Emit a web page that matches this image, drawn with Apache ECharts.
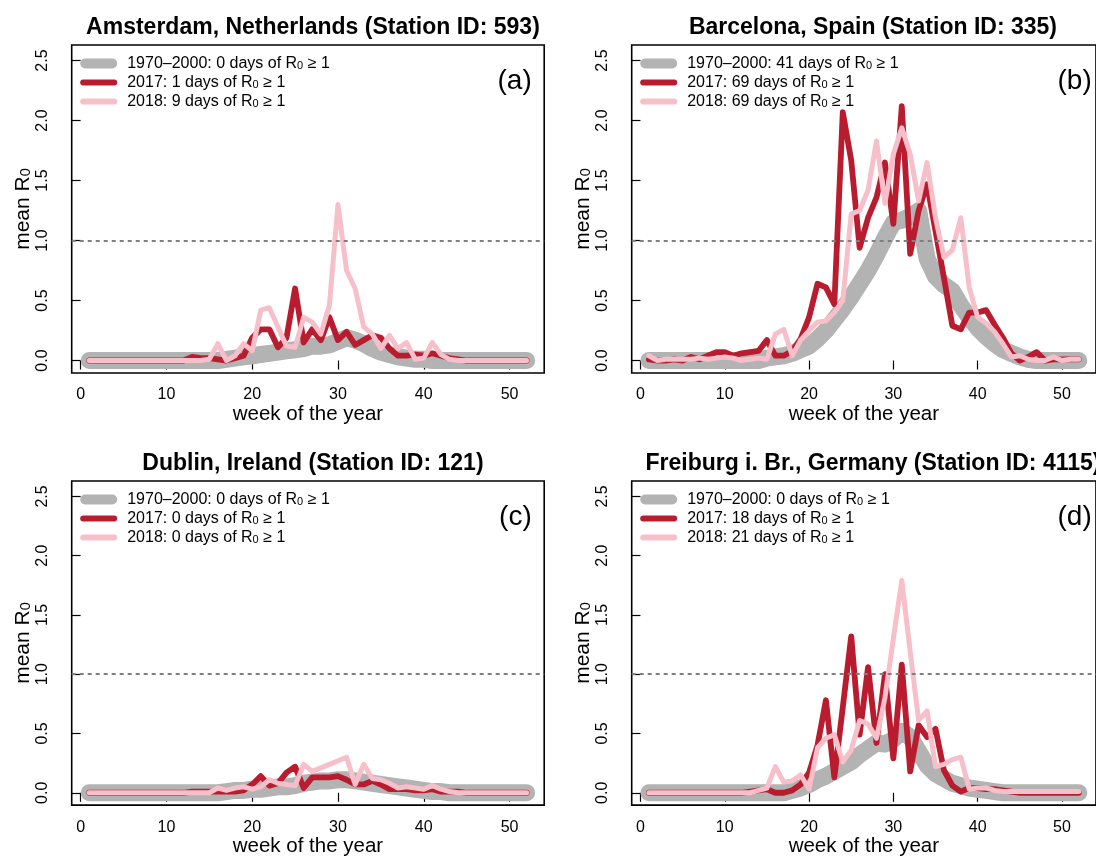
<!DOCTYPE html>
<html>
<head>
<meta charset="utf-8">
<title>mean R0 per week</title>
<script src="https://cdn.jsdelivr.net/npm/echarts@6/dist/echarts.min.js"></script>
<style>
  html, body { margin: 0; padding: 0; background: #fff; }
  #chart { width: 1096px; height: 858px; }
</style>
</head>
<body>
<div id="chart"></div>
<script>
// week of the year, 1..52
const weeks = Array.from({ length: 52 }, (_, i) => i + 1)

const xTicks = [0, 10, 20, 30, 40, 50]
const yTicks = [0, 0.5, 1, 1.5, 2, 2.5]

const titles = [
  'Amsterdam, Netherlands (Station ID: 593)',
  'Barcelona, Spain (Station ID: 335)',
  'Dublin, Ireland (Station ID: 121)',
  'Freiburg i. Br., Germany (Station ID: 4115)',
]
const tags = ['(a)', '(b)', '(c)', '(d)']

// days of R0 >= 1: [1970-2000, 2017, 2018]
const daysA = [0, 1, 9]
const daysB = [41, 69, 69]
const daysC = [0, 0, 0]
const daysD = [0, 18, 21]

// (a) Amsterdam
const baseA = [0,0,0,0,0,0,0,0,0,0,0,0,0,0,0,0,
  0.01,0.02,0.03,0.04,0.05,0.06,0.07,0.08,0.09,0.1,0.12,0.12,0.13,0.16,0.19,0.17,0.14,0.1,0.07,0.05,0.03,0.02,0.01,0.01,
  0,0,0,0,0,0,0,0,0,0,0,0]
const y2017A = [0,0,0,0,0,0,0,0,0,0,0,0,
  0.03,0.02,0.02,0.01,0,0.02,0.04,0.19,0.26,0.26,0.11,0.19,0.6,0.15,0.26,0.17,0.36,0.17,0.24,0.13,0.17,0.21,0.19,0.1,0.04,0.04,0.05,0.04,0.06,0.04,0.02,0.01,
  0,0,0,0,0,0,0,0]
const y2018A = [0,0,0,0,0,0,0,0,0,0,0,0,0,0,
  0.01,0.14,0,0.04,0.14,0.08,0.42,0.44,0.28,0.12,0.11,0.36,0.32,0.22,0.46,1.3,0.75,0.6,0.28,0.22,0.1,0.21,0.1,0.15,0.01,0.02,0.15,0.05,0.01,
  0,0,0,0,0,0,0,0,0]

// (b) Barcelona
const baseB = [0,0,0,0,0,0,0,0,0,0,0,0,0,0,
  0.02,0.03,0.04,0.06,0.09,0.12,0.18,0.25,0.34,0.43,0.53,0.64,0.75,0.88,1.02,1.15,1.17,1.2,1.25,0.85,0.7,0.63,0.58,0.46,0.36,0.27,0.2,0.14,0.09,0.06,0.03,0.01,
  0,0,0,0,0,0]
const y2017B = [0.01,0,0,0.01,0,0.03,0.01,0.04,0.07,0.07,0.04,0.06,0.07,0.08,0.17,0.04,0.04,0.08,0.18,0.36,
  0.64,0.61,0.47,2.07,1.67,0.94,1.19,1.36,1.65,1.14,2.12,0.89,1.25,1.47,1.08,0.69,0.29,0.26,0.4,0.4,
  0.42,0.3,0.19,0.06,0,0.03,0.07,0,0.01,0.01,0.01,0.01]
const y2018B = [0.04,0,0.01,0.01,0.01,0.01,0.02,0.01,0.02,0.03,0.02,0,0.01,0.02,0.01,0.22,0.26,0.04,0.17,0.25,
  0.32,0.33,0.4,0.5,1.22,1.25,1.42,1.83,1.31,1.72,1.94,1.72,1.33,1.65,1.19,0.86,0.92,1.19,0.61,0.36,
  0.31,0.24,0.14,0.03,0.04,0.01,0,0,0.03,0,0.01,0.01]

// (c) Dublin
const baseC = [0,0,0,0,0,0,0,0,0,0,0,0,0,0,0,0,
  0.01,0.02,0.02,0.03,0.03,0.04,0.05,0.05,0.06,0.08,0.09,0.1,0.1,0.11,0.11,0.1,0.09,0.08,0.07,0.06,0.05,0.04,0.03,0.02,0.01,0.01,
  0,0,0,0,0,0,0,0,0,0]
const y2017C = [0,0,0,0,0,0,0,0,0,0,0,0,
  0.01,0.01,0.01,0.01,0.01,0.01,0.02,0.07,0.14,0.06,0.08,0.17,0.22,0.04,0.13,0.13,0.13,0.14,0.11,0.07,0.07,0.1,0.07,0.03,0.03,0.03,0.02,0.02,0.03,0.01,0.01,0.01,
  0,0,0,0,0,0,0,0]
const y2018C = [0,0,0,0,0,0,0,0,0,0,0,0,0,0,0,
  0.04,0.02,0.04,0.05,0.03,0.05,0.11,0.08,0.07,0.06,0.24,0.18,0.21,0.24,0.27,0.3,0.07,0.24,0.12,0.11,0.08,0.04,0.05,0.04,0.03,0.06,0.03,0.01,
  0,0,0,0,0,0,0,0,0]

// (d) Freiburg
const baseD = [0,0,0,0,0,0,0,0,0,0,0,0,0,0,0,0,0,
  0.02,0.04,0.07,0.11,0.14,0.18,0.22,0.26,0.32,0.37,0.42,0.41,0.45,0.52,0.47,0.35,0.23,0.16,0.12,0.08,0.06,0.04,0.03,0.02,0.01,
  0,0,0,0,0,0,0,0,0,0]
const y2017D = [0,0,0,0,0,0,0,0,0,0,0,0,
  0.01,0.02,0.03,0,0,0.02,0.07,0.17,0.4,0.78,0.13,0.72,1.32,0.49,1.06,0.42,1.0,0.29,1.08,0.18,0.57,0.47,0.54,0.19,0.06,0.01,0.04,0.04,0.03,0.03,0.02,0.01,
  0,0,0,0,0,0,0,0]
const y2018D = [0,0,0,0,0,0,0,0,0,0,0,0,0,
  0.02,0.04,0.22,0.09,0.1,0.15,0.03,0.38,0.46,0.49,0.26,0.36,0.61,0.58,0.46,0.8,1.3,1.79,1.19,0.61,0.69,0.22,0.24,0.28,0.3,0.03,0.04,0.04,0.02,0.01,
  0.01,0.01,0.01,0.01,0.01,0.01,0.01,0.01,0.01]

const FONT = "'Liberation Sans', Arial, Helvetica, sans-serif"
const GRAY = '#b3b3b3'
const RED = '#b91c2e'
const PINK = '#f7bfca'

// panel frames (pixels)
const GRID_W = 472.5
const GRID_H = 328
const gridLeft = [71.7, 631.7, 71.7, 631.7]
const gridTop = [45, 45, 481, 481]

const panels = [
  { base: baseA, y17: y2017A, y18: y2018A, days: daysA },
  { base: baseB, y17: y2017B, y18: y2018B, days: daysB },
  { base: baseC, y17: y2017C, y18: y2018C, days: daysC },
  { base: baseD, y17: y2017D, y18: y2018D, days: daysD },
]

const ICON_WIDE = 'path://M5,0L32,0A5,5,0,0,1,32,10L5,10A5,5,0,0,1,5,0Z'
const ICON_THIN = 'path://M3,0L34,0A3,3,0,0,1,34,6L3,6A3,3,0,0,1,3,0Z'

function legendName(period, n) {
  return period + ': ' + n + ' days of R0 \u2265 1'
}

function subscriptR0(name) {
  const parts = name.split('R0')
  return '{m|' + parts[0] + 'R}{sub|0}{m|' + parts[1] + '}'
}

const pairs = vals => weeks.map((w, i) => [w, vals[i]])

const grid = []
const xAxis = []
const yAxis = []
const series = []
const legend = []
const title = []

panels.forEach((p, i) => {
  const names = [
    legendName('1970\u20132000', p.days[0]),
    legendName('2017', p.days[1]),
    legendName('2018', p.days[2]),
  ]

  grid.push({
    left: gridLeft[i], top: gridTop[i], width: GRID_W, height: GRID_H,
    show: true, borderColor: '#000', borderWidth: 1.6, backgroundColor: 'transparent',
  })

  xAxis.push({
    type: 'value', gridIndex: i, min: -1.04, max: 54.04,
    axisLine: { show: false },
    splitLine: { show: false },
    axisTick: { show: true, length: 9, customValues: xTicks, lineStyle: { color: '#000', width: 1.2 } },
    axisLabel: { customValues: xTicks, fontFamily: FONT, fontSize: 16, color: '#000', margin: 14 },
    name: 'week of the year', nameLocation: 'middle', nameGap: 29,
    nameTextStyle: { fontFamily: FONT, fontSize: 20.5, color: '#000' },
  })

  yAxis.push({
    type: 'value', gridIndex: i, min: -0.104, max: 2.63,
    axisLine: { show: false },
    splitLine: { show: false },
    axisTick: { show: true, length: 9, customValues: yTicks, lineStyle: { color: '#000', width: 1.2 } },
    axisLabel: {
      customValues: yTicks, rotate: 90, margin: 21,
      fontFamily: FONT, fontSize: 16, color: '#000',
      formatter: v => v.toFixed(1),
    },
    name: '{m|mean R}{sub|0}', nameLocation: 'middle', nameRotate: 90, nameGap: 35,
    nameTextStyle: {
      fontFamily: FONT, color: '#000',
      rich: {
        m: { fontFamily: FONT, fontSize: 21, lineHeight: 21, color: '#000' },
        sub: { fontFamily: FONT, fontSize: 14.5, lineHeight: 10, verticalAlign: 'bottom', color: '#000' },
      },
    },
  })

  // reference line at R0 = 1
  series.push({
    type: 'line', xAxisIndex: i, yAxisIndex: i, data: [], silent: true, z: 1,
    markLine: {
      silent: true, symbol: ['none', 'none'], label: { show: false },
      lineStyle: { color: '#808080', type: [4, 4], width: 2 },
      data: [{ yAxis: 1 }],
    },
  })

  const lines = [
    { vals: p.base, color: GRAY, width: 17 },
    { vals: p.y17, color: RED, width: 5.8 },
    { vals: p.y18, color: PINK, width: 5 },
  ]
  lines.forEach((l, k) => {
    series.push({
      name: names[k], type: 'line', xAxisIndex: i, yAxisIndex: i,
      data: pairs(l.vals), symbol: 'none', showSymbol: false, z: 2 + k,
      itemStyle: { color: l.color },
      lineStyle: { color: l.color, width: l.width, cap: 'round', join: 'round' },
    })
  })

  legend.push({
    left: gridLeft[i] + 8.5, top: gridTop[i] + 10.5, orient: 'vertical',
    padding: 0, itemGap: 3, itemWidth: 37, itemHeight: 10,
    selectedMode: false, symbolKeepAspect: true,
    itemStyle: { borderWidth: 0 },
    data: [
      { name: names[0], icon: ICON_WIDE },
      { name: names[1], icon: ICON_THIN },
      { name: names[2], icon: ICON_THIN },
    ],
    formatter: subscriptR0,
    textStyle: {
      fontFamily: FONT, fontSize: 16, color: '#000', padding: [0, 0, 0, 5],
      rich: {
        m: { fontFamily: FONT, fontSize: 16, lineHeight: 16, color: '#000' },
        sub: { fontFamily: FONT, fontSize: 11, lineHeight: 8, verticalAlign: 'bottom', color: '#000' },
      },
    },
  })

  title.push({
    text: titles[i], left: gridLeft[i] + GRID_W / 2, top: gridTop[i] - 35, textAlign: 'center',
    textStyle: { fontFamily: FONT, fontSize: 23, fontWeight: 'bold', color: '#000', lineHeight: 26 },
  })
  title.push({
    text: tags[i], left: gridLeft[i] + GRID_W - 17.5, top: gridTop[i] + 16, textAlign: 'right',
    textStyle: { fontFamily: FONT, fontSize: 28, fontWeight: 'normal', color: '#000', lineHeight: 30 },
  })
})

const chart = echarts.init(document.getElementById('chart'))
chart.setOption({
  backgroundColor: '#fff',
  animation: false,
  title, legend, grid, xAxis, yAxis, series,
})
</script>
</body>
</html>
